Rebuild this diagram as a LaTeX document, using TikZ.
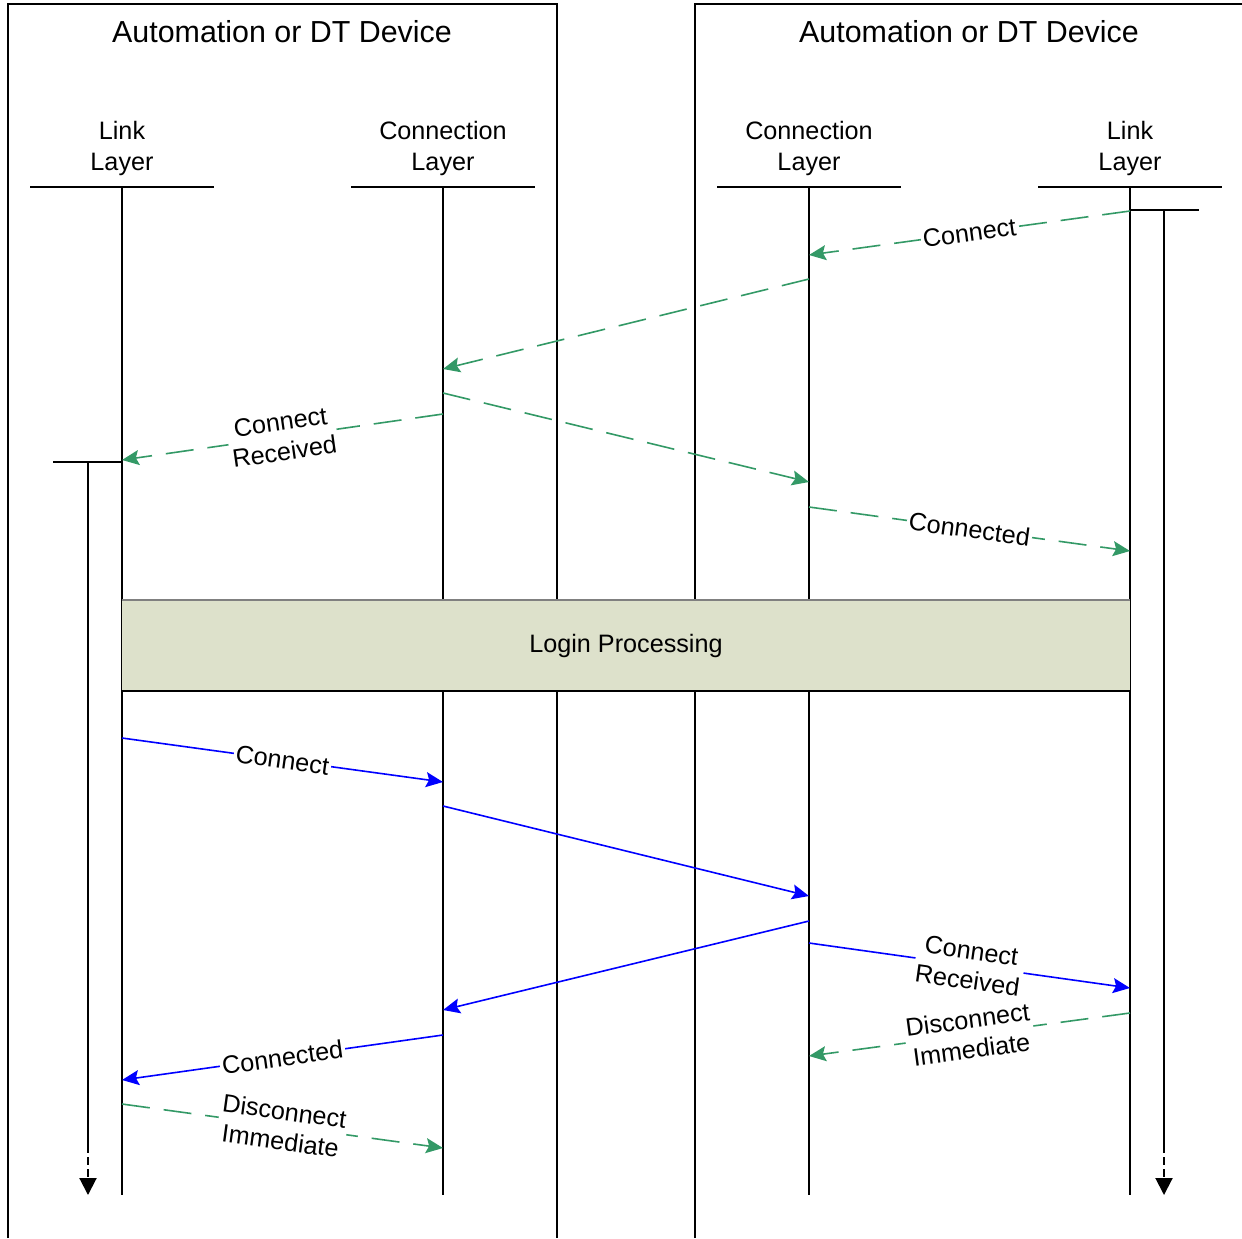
\documentclass[tikz,border=0pt]{standalone}
\usepackage{fontspec}
\setmainfont{Liberation Sans}
\usetikzlibrary{arrows.meta,positioning}
\definecolor{msggreen}{HTML}{339966}
\definecolor{msgblue}{HTML}{0000FF}
\definecolor{loginfill}{HTML}{DDE1CB}
\tikzset{
    device title/.style={font=\fontsize{15.2}{18}\selectfont},
    layer head/.style={align=center, font=\fontsize{12.6}{15.5}\selectfont},
    frame/.style={line width=0.8pt, black},
    lifeline/.style={line width=1pt, black},
    msg dashed/.style={msggreen, line width=0.8pt, dash pattern=on 14pt off 7pt,
        -{Stealth[length=8.5pt, width=7.5pt, inset=1.5pt]}},
    msg solid/.style={msgblue, line width=0.8pt,
        -{Stealth[length=8.5pt, width=7.5pt, inset=1.5pt]}},
    msg label/.style={sloped, fill=white, inner sep=1pt, align=center,
        font=\fontsize{12.6}{15}\selectfont, text=black},
    login box/.style={fill=loginfill, minimum width=504pt, minimum height=45.5pt,
        inner sep=0pt, font=\fontsize{12.6}{15}\selectfont},
    timer end/.style={lifeline, dash pattern=on 4pt off 2pt,
        -{Stealth[length=8.5pt, width=8.5pt, inset=0pt]}}
}
\begin{document}
\begin{tikzpicture}[x=0.5pt, y=-0.5pt]
    \useasboundingbox (0,0) rectangle (1242,1238);
    % the two devices
    \draw[frame] (8,1238) |- (557,4) -- (557,1238);
    \draw[frame] (695,1238) |- (1242,4);
    \node[device title] (devA) at (282,32) {Automation or DT Device};
    \node[device title] (devB) at (969,32) {Automation or DT Device};
    % layers and lifelines
    \node[layer head] (linkA) at (122,148) {Link\\Layer};
    \node[layer head] (connA) at (443,148) {Connection\\Layer};
    \node[layer head] (connB) at (809,148) {Connection\\Layer};
    \node[layer head] (linkB) at (1130,148) {Link\\Layer};
    \foreach \x in {122,443,809,1130} {
        \draw[lifeline] (\x-92,187) -- (\x+92,187);
        \draw[lifeline] (\x,187) -- (\x,1195);
    }
    % timers
    \coordinate (tA0) at (53,462);
    \coordinate (tA1) at (88,462);
    \coordinate (tA2) at (88,1145);
    \coordinate (tA3) at (88,1195);
    \coordinate (tB0) at (1199,210);
    \coordinate (tB1) at (1164,210);
    \coordinate (tB2) at (1164,1145);
    \coordinate (tB3) at (1164,1195);
    \draw[lifeline] (tA0) -- (122,462);
    \draw[lifeline] (tA1) -- (tA2);
    \draw[timer end] (tA2) -- (tA3);
    \draw[lifeline] (1130,210) -- (tB0);
    \draw[lifeline] (tB1) -- (tB2);
    \draw[timer end] (tB2) -- (tB3);
    % message end points
    \foreach \n/\xa/\ya/\xb/\yb in {
        1/1130/211/809/255, 2/809/279/443/369, 3/443/393/809/482,
        4/443/414/122/460, 5/809/507/1130/551,
        6/122/738/443/782, 7/443/806/809/896, 8/809/921/443/1010,
        9/809/943/1130/988, 10/1130/1013/809/1056,
        11/443/1035/122/1080, 12/122/1104/443/1148} {
        \coordinate (m\n s) at (\xa,\ya);
        \coordinate (m\n e) at (\xb,\yb);
    }
    % before login
    \draw[msg dashed] (m1s) -- node[msg label] {Connect} (m1e);
    \draw[msg dashed] (m2s) -- (m2e);
    \draw[msg dashed] (m3s) -- (m3e);
    \draw[msg dashed] (m4s) -- node[msg label] {Connect\\Received} (m4e);
    \draw[msg dashed] (m5s) -- node[msg label] {Connected} (m5e);
    % login
    \node[login box] (login) at (626,645.5) {Login Processing};
    \draw[gray, line width=1pt] (login.north west) -- (login.north east);
    \draw[black, line width=1pt] (login.south west) -- (login.south east);
    % after login
    \draw[msg solid] (m6s) -- node[msg label] {Connect} (m6e);
    \draw[msg solid] (m7s) -- (m7e);
    \draw[msg solid] (m8s) -- (m8e);
    \draw[msg solid] (m9s) -- node[msg label] {Connect\\Received} (m9e);
    \draw[msg dashed] (m10s) -- node[msg label] {Disconnect\\Immediate} (m10e);
    \draw[msg solid] (m11s) -- node[msg label] {Connected} (m11e);
    \draw[msg dashed] (m12s) -- node[msg label] {Disconnect\\Immediate} (m12e);
\end{tikzpicture}
\end{document}
